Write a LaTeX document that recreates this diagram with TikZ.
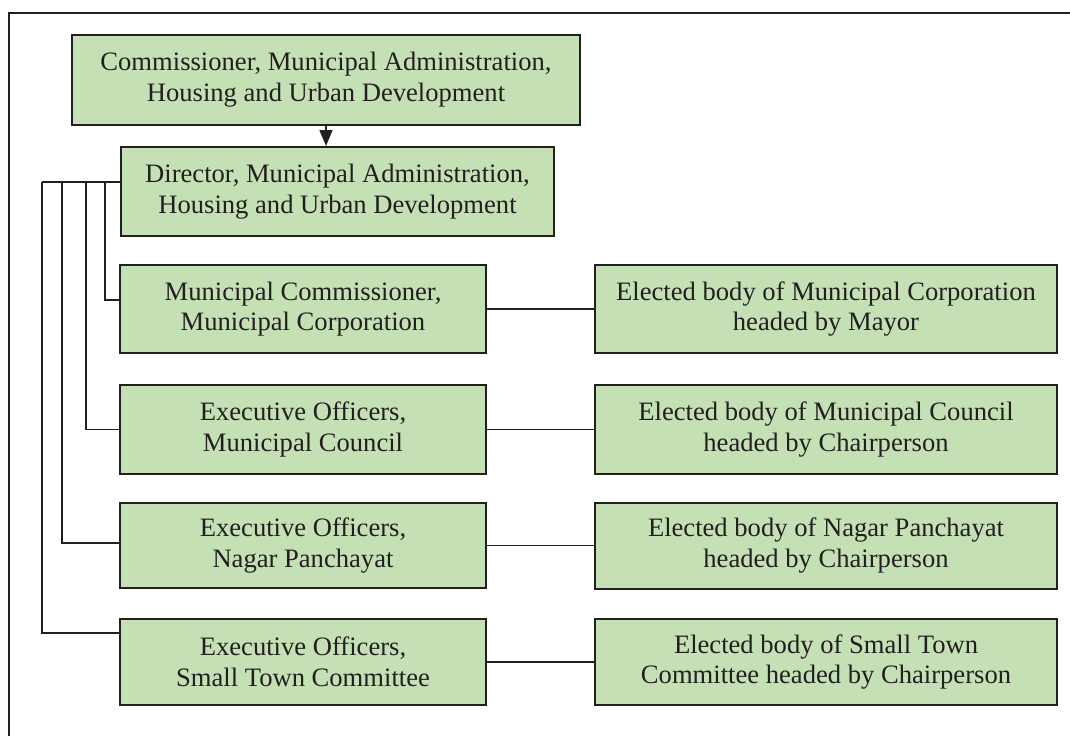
\documentclass[tikz,border=0pt]{standalone}
\usepackage{fontspec}
\setmainfont{Liberation Serif}
\usepackage{tikz}
\usetikzlibrary{arrows.meta, positioning, calc}
\definecolor{boxgreen}{RGB}{197,224,180}
\definecolor{inkgray}{RGB}{35,31,32}

\begin{document}
\begin{tikzpicture}[x=0.5pt, y=-0.5pt,
	unit/.style={draw=inkgray, line width=1pt, fill=boxgreen, text=inkgray, align=center, inner sep=0pt, font=\fontsize{13.3}{15.4}\selectfont},
	link/.style={draw=inkgray, line width=0.85pt}]
	\useasboundingbox (0,0) rectangle (1070,736);
	\draw[inkgray, line width=1pt] (9,736) -- (9,13) -- (1070,13);

	%--------------------------------------------------------------------
	\node(comm) [unit, minimum width=254pt, minimum height=45pt, anchor=north west] at (71,34) {Commissioner, Municipal Administration,\\ Housing and Urban Development};
	\node(dir) [unit, minimum width=216.5pt, minimum height=44.5pt, anchor=north west] at (120,146) {Director, Municipal Administration,\\ Housing and Urban Development};

	%--------------------------------------------------------------------
	\node(mcorp) [unit, minimum width=183pt, minimum height=44pt, anchor=north west] at (119,264) {Municipal Commissioner,\\ Municipal Corporation};
	\node(mcouncil) [unit, minimum width=183pt, minimum height=44.5pt, below=15pt of mcorp] {Executive Officers,\\ Municipal Council};
	\node(npanch) [unit, minimum width=183pt, minimum height=42.5pt, below=13.5pt of mcouncil] {Executive Officers,\\ Nagar Panchayat};
	\node(stc) [unit, minimum width=183pt, minimum height=43pt, below=14.5pt of npanch] {Executive Officers,\\ Small Town Committee};

	%--------------------------------------------------------------------
	\node(ecorp) [unit, minimum width=231pt, minimum height=44pt, right=53.5pt of mcorp] {Elected body of Municipal Corporation\\ headed by Mayor};
	\node(ecouncil) [unit, minimum width=231pt, minimum height=44.5pt, right=53.5pt of mcouncil] {Elected body of Municipal Council\\ headed by Chairperson};
	\node(enp) [unit, minimum width=231pt, minimum height=43pt, right=53.5pt of npanch] {Elected body of Nagar Panchayat\\ headed by Chairperson};
	\node(estc) [unit, minimum width=231pt, minimum height=43pt, right=53.5pt of stc] {Elected body of Small Town\\ Committee headed by Chairperson};

	%--------------------------------------------------------------------
	\draw[link, -{Triangle[width=6.5pt, length=8pt]}] (comm.south) -- (comm.south |- dir.north);

	\coordinate (hub) at ($(dir.west)+(0,-9.5)$);
	\draw[link] (hub) -- ++(-78,0);
	\draw[link] ($(hub)+(-15,0)$) |- ([yshift=4.5pt]mcorp.west);
	\draw[link] ($(hub)+(-34,0)$) |- (mcouncil.west);
	\draw[link] ($(hub)+(-58,0)$) |- ([yshift=1.2pt]npanch.west);
	\draw[link] ($(hub)+(-78,0)$) |- ([yshift=14.5pt]stc.west);

	\draw[link] (mcorp.east) -- (ecorp.west);
	\draw[link] (mcouncil.east) -- (ecouncil.west);
	\draw[link] (npanch.east) -- (enp.west);
	\draw[link] (stc.east) -- (estc.west);
\end{tikzpicture}
\end{document}
